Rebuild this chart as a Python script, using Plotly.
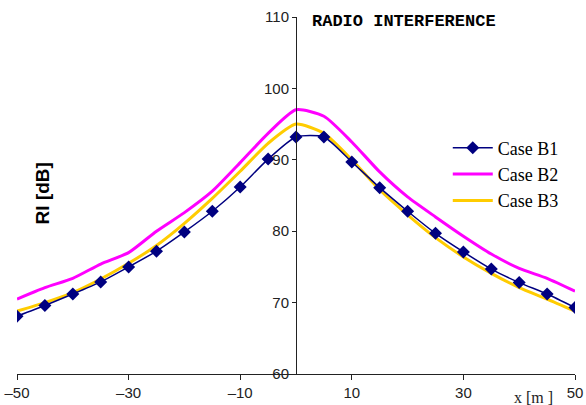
import plotly.graph_objects as go

x_vals = [-50, -45, -40, -35, -30, -25, -20, -15, -10, -5, 0, 5, 10, 15, 20, 25, 30, 35, 40, 45, 50]
case_b1 = [68.1, 69.6, 71.2, 72.9, 75.0, 77.2, 79.9, 82.8, 86.2, 90.1, 93.2, 93.2, 89.7, 86.1, 82.8, 79.7, 77.1, 74.7, 72.8, 71.2, 69.3]
case_b2 = [70.5, 72.1, 73.4, 75.4, 77.0, 80.0, 82.6, 85.6, 89.6, 93.7, 97.0, 96.1, 92.5, 88.3, 84.8, 82.0, 79.3, 76.8, 74.8, 73.4, 71.6]
case_b3 = [68.8, 70.0, 71.4, 73.3, 75.5, 78.0, 81.1, 84.6, 88.4, 92.3, 95.0, 93.7, 90.0, 85.8, 82.3, 79.1, 76.4, 74.1, 72.1, 70.5, 68.8]

x_tick_vals = [-50, -30, -10, 10, 30, 50]
x_tick_labels = ["–50", "–30", "–10", "10", "30", "50"]
y_tick_vals = [60, 70, 80, 90, 100, 110]

fig = go.Figure()
fig.add_trace(go.Scatter(x=x_vals, y=case_b2, mode="lines", name="Case B2",
                         line=dict(color="#FF00FF", width=3, shape="spline", smoothing=0.6),
                         legendrank=2))
fig.add_trace(go.Scatter(x=x_vals, y=case_b3, mode="lines", name="Case B3",
                         line=dict(color="#FFCC00", width=3, shape="spline", smoothing=0.6),
                         legendrank=3))
fig.add_trace(go.Scatter(x=x_vals, y=case_b1, mode="lines+markers", name="Case B1",
                         line=dict(color="#000080", width=1.5, shape="spline", smoothing=0.6),
                         marker=dict(symbol="diamond", size=10, color="#000080"),
                         legendrank=1))

fig.update_layout(
    width=586, height=405,
    margin=dict(l=17, r=11, t=17, b=31),
    plot_bgcolor="white", paper_bgcolor="white",
    showlegend=True,
    legend=dict(x=0.772, y=0.685, xanchor="left", yanchor="top",
                font=dict(family="Liberation Serif", size=18, color="#000"),
                bgcolor="rgba(0,0,0,0)", tracegroupgap=0, itemwidth=40),
    xaxis=dict(range=[-50, 50], tickvals=x_tick_vals, ticktext=x_tick_labels,
               showgrid=False, zeroline=False, showline=True, linecolor="#222", linewidth=1,
               ticks="outside", ticklen=5, tickcolor="#222", automargin=False,
               tickfont=dict(family="Liberation Sans", size=15, color="#222")),
    yaxis=dict(range=[60, 110], tickvals=y_tick_vals,
               showgrid=False, zeroline=False, showline=True, linecolor="#222", linewidth=1,
               ticks="outside", ticklen=4, tickcolor="#222", automargin=False,
               anchor="free", position=0.5,
               tickfont=dict(family="Liberation Sans", size=15, color="#222")),
    annotations=[
        dict(text="<b>RADIO INTERFERENCE</b>", x=0.525, y=0.986, xref="paper", yref="paper",
             xanchor="left", yanchor="middle", showarrow=False,
             font=dict(family="Liberation Mono", size=17, color="#000")),
        dict(text="<b>RI [dB]</b>", x=0.046, y=0.505, xref="paper", yref="paper",
             textangle=-90, xanchor="center", yanchor="middle", showarrow=False,
             font=dict(family="Liberation Sans", size=19, color="#000")),
        dict(text="x [m ]", x=0.925, y=-0.067, xref="paper", yref="paper",
             xanchor="center", yanchor="middle", showarrow=False,
             font=dict(family="Liberation Serif", size=16, color="#222")),
    ],
)

fig.write_html("out.html")
